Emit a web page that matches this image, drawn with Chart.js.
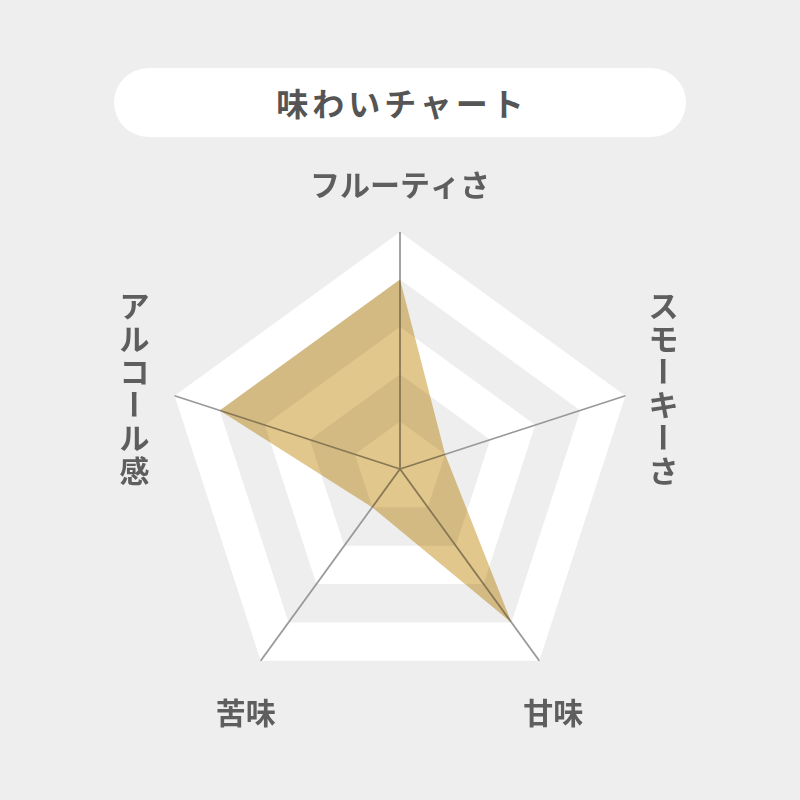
<!DOCTYPE html>
<html lang="ja">
<head>
<meta charset="utf-8">
<title>味わいチャート</title>
<script src="https://cdn.jsdelivr.net/npm/chart.js@4/dist/chart.umd.min.js"></script>
<style>
  html, body {
    margin: 0;
    padding: 0;
    background: #eeeeee;
  }
  .wrap {
    position: relative;
    width: 800px;
    height: 800px;
  }
  .chart-title {
    position: absolute;
    left: 114px;
    top: 68px;
    width: 572px;
    height: 69px;
    border-radius: 35px;
    background: #ffffff;
    color: #555555;
    font-family: "Noto Sans CJK JP", sans-serif;
    font-weight: 700;
    font-size: 32px;
    letter-spacing: 4px;
    padding-left: 4px;
    box-sizing: border-box;
    line-height: 69px;
    text-align: center;
  }
  #tasteChart {
    position: absolute;
    left: 0;
    top: 0;
  }
</style>
</head>
<body>
<div class="wrap">
  <canvas id="tasteChart" width="800" height="800"></canvas>
  <div class="chart-title">味わいチャート</div>
</div>
<script>
const labels = ["フルーティさ", "スモーキーさ", "甘味", "苦味", "アルコール感"];
const values = [4, 1, 4, 1, 4];
const scaleMax = 5;
// 外側から白・グレーを交互に塗る
const bandColors = ["#ffffff", "#eeeeee"];
// ラベルの向き（縦書きかどうか）
const verticalLabels = [false, true, false, false, true];

const labelColor = "#5e5e5e";
const labelFont = 'bold 30px "Noto Sans CJK JP", sans-serif';

// 頂点からのラベルのずらし量
const labelOffsets = [[0, -47], [38, -8], [14, 52], [-15, 52], [-40, -8]];

const bandPlugin = {
  id: 'bands',
  beforeDraw(chart) {
    const scale = chart.scales.r;
    const ctx = chart.ctx;
    ctx.save();
    for (let v = scaleMax; v >= 1; v--) {
      ctx.beginPath();
      for (let i = 0; i < labels.length; i++) {
        const p = scale.getPointPositionForValue(i, v);
        if (i === 0) ctx.moveTo(p.x, p.y);
        else ctx.lineTo(p.x, p.y);
      }
      ctx.closePath();
      ctx.fillStyle = bandColors[(scaleMax - v) % 2];
      ctx.fill();
    }
    ctx.restore();
  }
};

// 塗りを乗算で重ねる
const multiplyPlugin = {
  id: 'multiply',
  beforeDatasetsDraw(chart) {
    chart.ctx.save();
    chart.ctx.globalCompositeOperation = 'multiply';
  },
  afterDatasetsDraw(chart) {
    chart.ctx.restore();
  }
};

const labelPlugin = {
  id: 'axisLabels',
  afterDraw(chart) {
    const scale = chart.scales.r;
    const ctx = chart.ctx;
    ctx.save();
    ctx.font = labelFont;
    ctx.fillStyle = labelColor;
    ctx.textAlign = 'center';
    ctx.textBaseline = 'middle';
    for (let i = 0; i < labels.length; i++) {
      const p = scale.getPointPositionForValue(i, scaleMax);
      const cx = p.x + labelOffsets[i][0];
      const cy = p.y + labelOffsets[i][1];
      if (!verticalLabels[i]) {
        ctx.fillText(labels[i], cx, cy);
        continue;
      }
      const chars = Array.from(labels[i]);
      const step = 33;
      const top = cy - step * chars.length / 2;
      chars.forEach((ch, k) => {
        const y = top + step * (k + 0.5);
        if (ch === 'ー') {
          ctx.save();
          ctx.translate(cx, y);
          ctx.rotate(Math.PI / 2);
          ctx.fillText(ch, 0, 0);
          ctx.restore();
        } else {
          ctx.fillText(ch, cx, y);
        }
      });
    }
    ctx.restore();
  }
};

new Chart(document.getElementById('tasteChart'), {
  type: 'radar',
  data: {
    labels: labels,
    datasets: [{
      data: values,
      backgroundColor: '#e2c78c',
      borderWidth: 0,
      pointRadius: 0,
      fill: true
    }]
  },
  options: {
    responsive: false,
    animation: false,
    layout: {
      padding: { left: 163, right: 163, top: 232, bottom: 94 }
    },
    plugins: {
      legend: { display: false },
      tooltip: { enabled: false }
    },
    scales: {
      r: {
        min: 0,
        max: scaleMax,
        ticks: { stepSize: 1, display: false },
        grid: { display: false },
        angleLines: { color: '#999999', lineWidth: 1.8 },
        pointLabels: { display: false }
      }
    }
  },
  plugins: [bandPlugin, multiplyPlugin, labelPlugin]
});
</script>
</body>
</html>
